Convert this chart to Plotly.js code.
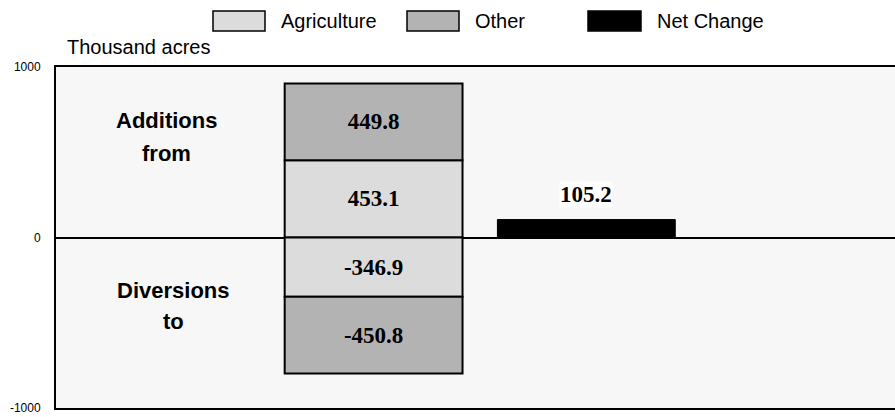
<!DOCTYPE html>
<html>
<head>
<meta charset="utf-8">
<script src="https://cdn.plot.ly/plotly-3.0.1.min.js"></script>
<style>html,body{margin:0;padding:0;background:#fff;}#chart{width:895px;height:417px;}</style>
</head>
<body>
<div id="chart"></div>
<script>
var categories = ["Gross", "Net"];
var seriesNames = ["Agriculture", "Other", "Net Change"];
var agricultureAdd = [453.1];
var otherAdd = [449.8];
var agricultureDiv = [-346.9];
var otherDiv = [-450.8];
var netChange = [105.2];
var sideLabels = [["Additions", "from"], ["Diversions", "to"]];
var yTickVals = [-1000, 0, 1000];
var yTickText = ["-1000", "0", "1000"];

var M = {l: 56, r: 0, t: 67, b: 9};
var W = 895, H = 417, PW = W - M.l - M.r, PH = H - M.t - M.b;
function px(x){ return (x - M.l) / PW; }
function py(y){ return (H - M.b - y) / PH; }

var colAg = "#dcdcdc", colOther = "#b3b3b3", colNet = "#000000";
var sans = "Liberation Sans, Arial, sans-serif";
var barFont = {family: "Liberation Serif, Times New Roman, serif", size: 23, color: "#000"};
function fmt(v){ return v.toFixed(1); }
function stackTrace(vals, color, name){
  return {
    type: "bar", x: [categories[0]], y: vals, name: name, width: 0.836,
    marker: {color: color, line: {color: "#000", width: 2}},
    text: vals.map(fmt), texttemplate: "<b>%{text}</b>", textposition: "inside",
    insidetextanchor: "middle", constraintext: "none",
    textfont: barFont, showlegend: false, hoverinfo: "skip"
  };
}
var traces = [
  stackTrace(agricultureAdd, colAg, seriesNames[0]),
  stackTrace(agricultureDiv, colAg, seriesNames[0]),
  stackTrace(otherAdd, colOther, seriesNames[1]),
  stackTrace(otherDiv, colOther, seriesNames[1]),
  {type: "bar", x: [categories[1]], y: netChange, name: seriesNames[2], width: 0.836,
   marker: {color: colNet, line: {color: "#000", width: 1}}, showlegend: false, hoverinfo: "skip"}
];

var sideFont = {family: sans, size: 22, color: "#000"};
function sideAnn(text, x, y){
  return {x: px(x), y: py(y), xref: "paper", yref: "paper", xanchor: "center", yanchor: "middle",
          text: "<b>" + text + "</b>", showarrow: false, font: sideFont};
}
var annotations = [
  {x: categories[1], y: netChange[0], xref: "x", yref: "y", text: "<b>" + fmt(netChange[0]) + "</b>",
   showarrow: false, yanchor: "bottom", yshift: 12, bgcolor: "#ffffff", borderpad: 0,
   font: barFont},
  sideAnn(sideLabels[0][0], 166, 120),
  sideAnn(sideLabels[0][1], 166, 153),
  sideAnn(sideLabels[1][0], 173, 290),
  sideAnn(sideLabels[1][1], 173, 321),
  {x: px(65), y: py(47), xref: "paper", yref: "paper", yanchor: "middle", xanchor: "left",
   text: "Thousand acres", showarrow: false, font: {family: sans, size: 20, color: "#000"}}
];

// manual legend (large boxes like the original)
var legendBoxes = [[213, 265], [407, 459], [588, 641]];
var legendCols = [colAg, colOther, colNet];
var shapes = [];
for (var i = 0; i < seriesNames.length; i++) {
  shapes.push({type: "rect", xref: "paper", yref: "paper",
    x0: px(legendBoxes[i][0]), x1: px(legendBoxes[i][1]), y0: py(31), y1: py(11),
    fillcolor: legendCols[i], line: {color: "#000", width: 1.5}});
  annotations.push({xref: "paper", yref: "paper", x: px(legendBoxes[i][1] + 14),
    y: py(21), xanchor: "left", yanchor: "middle", showarrow: false,
    text: seriesNames[i], font: {family: sans, size: 20, color: "#000"}});
}

var layout = {
  width: W, height: H,
  margin: M,
  paper_bgcolor: "#ffffff", plot_bgcolor: "#f7f7f7",
  barmode: "relative", showlegend: false,
  xaxis: {type: "category", range: [-1.493, 2.451], showticklabels: false, ticks: "",
          showgrid: false, zeroline: false, showline: true, linecolor: "#000", linewidth: 2,
          mirror: true, fixedrange: true},
  yaxis: {range: [-1000, 1000], tickvals: yTickVals, ticktext: yTickText, ticks: "",
          tickfont: {family: sans, size: 12, color: "#000"},
          ticklabelstandoff: 11, ticklabeloverflow: "allow",
          showgrid: false, zeroline: true, zerolinecolor: "#000", zerolinewidth: 2,
          showline: true, linecolor: "#000", linewidth: 2, fixedrange: true},
  annotations: annotations, shapes: shapes
};
Plotly.newPlot("chart", traces, layout, {displayModeBar: false, staticPlot: true});
</script>
</body>
</html>
